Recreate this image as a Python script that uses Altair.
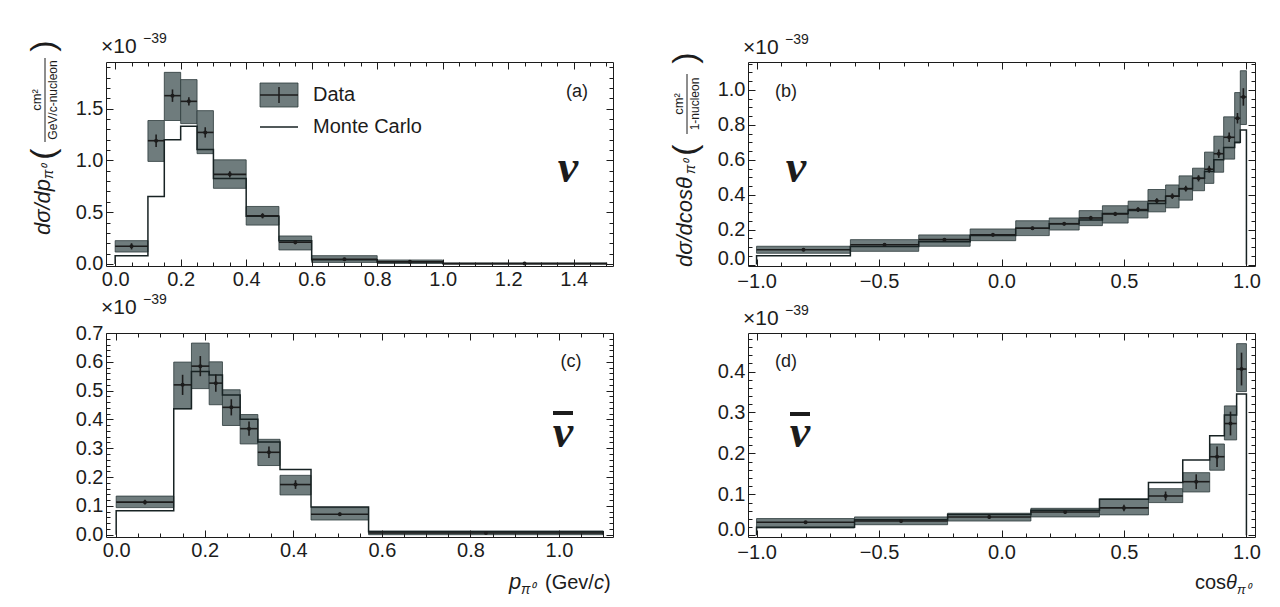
import altair as alt
import numpy as np
import pandas as pd

# ---------------- (a) neutrino, dsigma/dp ----------------
a_edges = [0.0, 0.1, 0.15, 0.2, 0.25, 0.3, 0.4, 0.5, 0.6, 0.8, 1.0, 1.5]
a_data = [0.17, 1.19, 1.625, 1.57, 1.27, 0.865, 0.465, 0.21, 0.045, 0.02, 0.003]
a_syslo = [0.115, 0.99, 1.385, 1.355, 1.065, 0.73, 0.375, 0.135, 0.015, 0.005, 0.0]
a_syshi = [0.225, 1.385, 1.85, 1.78, 1.48, 1.005, 0.555, 0.27, 0.08, 0.038, 0.007]
a_stat = [0.03, 0.06, 0.06, 0.04, 0.05, 0.03, 0.025, 0.02, 0.01, 0.005, 0.002]
a_mc = [0.08, 0.65, 1.2, 1.33, 1.105, 0.825, 0.46, 0.225, 0.04, 0.02, 0.004]
a_xmajor = [0.0, 0.2, 0.4, 0.6, 0.8, 1.0, 1.2, 1.4]
a_ymajor = [0.0, 0.5, 1.0, 1.5]

# ---------------- (b) neutrino, dsigma/dcos ----------------
b_edges = [-1.0, -0.617, -0.338, -0.128, 0.058, 0.195, 0.317, 0.412, 0.517, 0.598,
           0.67, 0.725, 0.78, 0.829, 0.867, 0.907, 0.952, 0.975, 1.0]
b_data = [0.085, 0.114, 0.143, 0.171, 0.208, 0.234, 0.267, 0.29, 0.315, 0.365,
          0.392, 0.435, 0.494, 0.546, 0.635, 0.729, 0.838, 0.96]
b_syslo = [0.065, 0.076, 0.105, 0.137, 0.166, 0.198, 0.223, 0.238, 0.267, 0.302,
           0.325, 0.369, 0.423, 0.465, 0.529, 0.604, 0.696, 0.802]
b_syshi = [0.105, 0.143, 0.17, 0.204, 0.251, 0.267, 0.309, 0.337, 0.363, 0.43,
           0.456, 0.508, 0.552, 0.644, 0.735, 0.846, 0.985, 1.11]
b_stat = [0.008, 0.008, 0.008, 0.01, 0.01, 0.01, 0.012, 0.012, 0.014, 0.015,
          0.016, 0.017, 0.018, 0.02, 0.024, 0.027, 0.03, 0.05]
b_mc = [0.05, 0.103, 0.131, 0.166, 0.208, 0.234, 0.255, 0.293, 0.31, 0.35,
        0.392, 0.435, 0.494, 0.533, 0.6, 0.67, 0.7, 0.77]
b_xmajor = [-1.0, -0.5, 0.0, 0.5, 1.0]
b_ymajor = [0.0, 0.2, 0.4, 0.6, 0.8, 1.0]

# ---------------- (c) antineutrino, dsigma/dp ----------------
c_edges = [0.0, 0.13, 0.17, 0.21, 0.24, 0.28, 0.32, 0.37, 0.44, 0.57, 1.1]
c_data = [0.113, 0.52, 0.585, 0.526, 0.442, 0.368, 0.286, 0.174, 0.071, 0.006]
c_syslo = [0.094, 0.437, 0.507, 0.451, 0.379, 0.315, 0.24, 0.138, 0.051, 0.0]
c_syshi = [0.134, 0.599, 0.665, 0.6, 0.503, 0.417, 0.331, 0.206, 0.094, 0.013]
c_stat = [0.008, 0.035, 0.035, 0.03, 0.028, 0.025, 0.02, 0.015, 0.006, 0.002]
c_mc = [0.083, 0.437, 0.566, 0.554, 0.485, 0.401, 0.322, 0.226, 0.096, 0.01]
c_xmajor = [0.0, 0.2, 0.4, 0.6, 0.8, 1.0]
c_ymajor = [0.0, 0.1, 0.2, 0.3, 0.4, 0.5, 0.6, 0.7]

# ---------------- (d) antineutrino, dsigma/dcos ----------------
d_edges = [-1.0, -0.6, -0.22, 0.12, 0.4, 0.6, 0.74, 0.85, 0.91, 0.96, 1.0]
d_data = [0.032, 0.035, 0.045, 0.057, 0.067, 0.096, 0.131, 0.192, 0.273, 0.406]
d_syslo = [0.018, 0.026, 0.035, 0.045, 0.05, 0.08, 0.106, 0.159, 0.233, 0.351]
d_syshi = [0.041, 0.045, 0.054, 0.066, 0.089, 0.114, 0.153, 0.223, 0.316, 0.468]
d_stat = [0.003, 0.004, 0.004, 0.005, 0.008, 0.011, 0.018, 0.025, 0.029, 0.04]
d_mc = [0.02, 0.038, 0.051, 0.061, 0.088, 0.129, 0.184, 0.243, 0.294, 0.345]
d_xmajor = [-1.0, -0.5, 0.0, 0.5, 1.0]
d_ymajor = [0.0, 0.1, 0.2, 0.3, 0.4]

W, H = 507, 204
FONT = "Liberation Sans"
SERIF = "Liberation Serif"
INK = "#1c1c1c"
BOX_FILL = "#6f7c7d"
BOX_STROKE = "#2c3a3b"
LINE = "#172223"


def ticks(lo, hi, step, major):
    vals = np.round(np.arange(lo, hi + step / 2, step), 3)
    return [float(v) for v in vals if not any(abs(v - m) < 1e-9 for m in major)]


def axis(orient, vals, size, labels, pad=3, raise_zero=False):
    kw = dict(orient=orient, values=vals, tickSize=size, offset=-size,
              domain=False, grid=False, labels=labels, title=None,
              tickColor=INK, tickWidth=1, labelFont=FONT, labelFontSize=20,
              labelColor=INK, labelPadding=pad, format=".1f",
              labelFlush=False, labelOverlap=False, zindex=1)
    if raise_zero:
        kw["labelBaseline"] = {"condition": {"test": "datum.value == 0", "value": "alphabetic"},
                               "value": "middle"}
    return alt.Axis(**kw)


class Panel:
    """Converts pixel offsets (relative to the plot area) into data units so every
    annotation layer is drawn through the panel's own shared scales."""

    def __init__(self, xdom, ydom, cos_axis=False):
        self.xdom, self.ydom = xdom, ydom
        self.cos_axis = cos_axis
        self.xs = alt.Scale(domain=xdom, nice=False, zero=False)
        self.ys = alt.Scale(domain=ydom, nice=False, zero=False)

    def px(self, x):
        return self.xdom[0] + x / W * (self.xdom[1] - self.xdom[0])

    def py(self, y):
        return self.ydom[1] - y / H * (self.ydom[1] - self.ydom[0])

    def X(self, f):
        return alt.X(f, scale=self.xs, axis=None)

    def Y(self, f):
        return alt.Y(f, scale=self.ys, axis=None)

    def txt(self, s, x, y, size, angle=0, italic=False, bold=False, font=FONT,
            align="center", baseline="middle"):
        kw = dict(fontSize=size, font=font, align=align, baseline=baseline, color=INK)
        if angle:
            kw["angle"] = angle
        if italic:
            kw["fontStyle"] = "italic"
        if bold:
            kw["fontWeight"] = "bold"
        df = pd.DataFrame({"t": [s], "x": [self.px(x)], "y": [self.py(y)]})
        return alt.Chart(df).mark_text(**kw).encode(
            x=self.X("x:Q"), y=self.Y("y:Q"), text="t:N")

    def seg(self, x1, x2, y1, y2, w=1.0, color=INK):
        df = pd.DataFrame({"x": [self.px(x1)], "x2": [self.px(x2)],
                           "y": [self.py(y1)], "y2": [self.py(y2)]})
        return alt.Chart(df).mark_rule(strokeWidth=w, color=color).encode(
            x=self.X("x:Q"), x2="x2:Q", y=self.Y("y:Q"), y2="y2:Q")

    def box(self, x1, x2, y1, y2):
        df = pd.DataFrame({"x": [self.px(x1)], "x2": [self.px(x2)],
                           "y": [self.py(y1)], "y2": [self.py(y2)]})
        return alt.Chart(df).mark_rect(fill=BOX_FILL, stroke=BOX_STROKE, strokeWidth=0.8).encode(
            x=self.X("x:Q"), x2="x2:Q", y=self.Y("y:Q"), y2="y2:Q")

    def exponent(self, y):
        return [self.txt("×10", -5, y, 21, align="left", baseline="alphabetic"),
                self.txt("−39", 37, y - 10, 14, align="left", baseline="alphabetic")]

    def chart(self, edges, data, lo, hi, stat, mc, xmaj, xmin, ymaj, ymin, extras):
        n = len(data)
        df = pd.DataFrame({
            "x0": edges[:-1], "x1": edges[1:],
            "xc": [(edges[i] + edges[i + 1]) / 2 for i in range(n)],
            "d": data, "lo": lo, "hi": hi,
            "s0": [data[i] - stat[i] for i in range(n)],
            "s1": [data[i] + stat[i] for i in range(n)],
        })
        base = alt.Chart(df)
        boxes = base.mark_rect(fill=BOX_FILL, stroke=BOX_STROKE, strokeWidth=0.8).encode(
            x=self.X("x0:Q"), x2="x1:Q", y=self.Y("lo:Q"), y2="hi:Q")
        sx, sy = [edges[0]], [0.0]
        for i, v in enumerate(mc):
            sx += [edges[i], edges[i + 1]]
            sy += [v, v]
        sx.append(edges[-1])
        sy.append(0.0)
        mdf = pd.DataFrame({"x": sx, "y": sy, "i": list(range(len(sx)))})
        mcl = alt.Chart(mdf).mark_line(color=LINE, strokeWidth=1.5).encode(
            x=self.X("x:Q"), y=self.Y("y:Q"), order="i:Q")
        hbar = base.mark_rule(color=INK, strokeWidth=1.6).encode(
            x=self.X("x0:Q"), x2="x1:Q", y=self.Y("d:Q"))
        vbar = base.mark_rule(color=INK, strokeWidth=1.6).encode(
            x=self.X("xc:Q"), y=self.Y("s0:Q"), y2="s1:Q")
        pts = base.mark_circle(color=INK, size=16, opacity=1).encode(
            x=self.X("xc:Q"), y=self.Y("d:Q"))
        xpad = 5 if self.cos_axis else 3
        axl = []
        for orient, vals, size, lab in [("bottom", xmaj, 7, True), ("bottom", xmin, 4, False),
                                        ("top", xmaj, 7, False), ("top", xmin, 4, False)]:
            axl.append(base.mark_point(opacity=0).encode(
                x=alt.X("xc:Q", scale=self.xs, axis=axis(orient, vals, size, lab, pad=xpad)),
                y=self.Y("d:Q")))
        for orient, vals, size, lab in [("left", ymaj, 7, True), ("left", ymin, 4, False),
                                        ("right", ymaj, 7, False), ("right", ymin, 4, False)]:
            axl.append(base.mark_point(opacity=0).encode(
                x=self.X("xc:Q"),
                y=alt.Y("d:Q", scale=self.ys,
                        axis=axis(orient, vals, size, lab,
                                  raise_zero=(self.cos_axis and lab)))))
        return alt.layer(boxes, mcl, hbar, vbar, pts, *axl, *extras).properties(
            width=W, height=H).resolve_axis(x="independent", y="independent")


# ---- (a)
A = Panel([-0.028, 1.52], [-0.02, 1.95])
a_extra = A.exponent(-9) + [
    A.txt("(a)", 471, 30, 18),
    A.txt("ν", 462, 106, 46, italic=True, bold=True, font=SERIF),
    A.box(154, 192, 21, 45),
    A.seg(154, 192, 33, 33, 1.5), A.seg(173, 173, 25, 41, 1.5),
    A.txt("Data", 207, 33, 20, align="left"),
    A.seg(154, 192, 65, 65, 1.4, LINE),
    A.txt("Monte Carlo", 207, 65, 20, align="left"),
    A.txt("dσ/dp", -63, 173, 22, angle=270, italic=True, align="left"),
    A.txt("π⁰", -57, 117, 14, angle=270, italic=True, align="left"),
    A.txt("(", -62, 92, 34, angle=270),
    A.txt("cm²", -69, 38, 13, angle=270),
    A.seg(-61, -61, 80, -4, 1.0),
    A.txt("GeV/c-nucleon", -53, 38, 12, angle=270),
    A.txt(")", -62, -16, 34, angle=270),
]
pa = A.chart(a_edges, a_data, a_syslo, a_syshi, a_stat, a_mc,
             a_xmajor, ticks(0.0, 1.5, 0.05, a_xmajor), a_ymajor, ticks(0.0, 1.9, 0.1, a_ymajor),
             a_extra)

# ---- (b)
B = Panel([-1.035, 1.035], [-0.008, 1.16], cos_axis=True)
b_extra = B.exponent(-8) + [
    B.txt("(b)", 38, 30, 18),
    B.txt("ν", 48, 106, 46, italic=True, bold=True, font=SERIF),
    B.txt("dσ/dcosθ", -63, 205, 22, angle=270, italic=True, align="left"),
    B.txt("π⁰", -57, 112, 14, angle=270, italic=True, align="left"),
    B.txt("(", -62, 88, 34, angle=270),
    B.txt("cm²", -69, 42, 13, angle=270),
    B.seg(-61, -61, 72, 12, 1.0),
    B.txt("1-nucleon", -53, 42, 12, angle=270),
    B.txt(")", -62, -4, 34, angle=270),
]
pb = B.chart(b_edges, b_data, b_syslo, b_syshi, b_stat, b_mc,
             b_xmajor, ticks(-1.0, 1.0, 0.1, b_xmajor), b_ymajor, ticks(0.0, 1.15, 0.05, b_ymajor),
             b_extra)

# ---- (c)
C = Panel([-0.023, 1.122], [-0.008, 0.70])
c_extra = C.exponent(-19) + [
    C.txt("(c)", 465, 29, 18),
    C.txt("ν", 457, 100, 46, italic=True, bold=True, font=SERIF),
    C.seg(447, 467, 80, 80, 4),
    C.txt("p", 403, 256, 22, italic=True, align="left", baseline="alphabetic"),
    C.txt("π⁰", 415, 261, 14, italic=True, align="left", baseline="alphabetic"),
    C.txt("(Gev/", 439, 256, 20, align="left", baseline="alphabetic"),
    C.txt("c", 488, 256, 20, italic=True, align="left", baseline="alphabetic"),
    C.txt(")", 498, 256, 20, align="left", baseline="alphabetic"),
]
pc = C.chart(c_edges, c_data, c_syslo, c_syshi, c_stat, c_mc,
             c_xmajor, ticks(0.0, 1.1, 0.05, c_xmajor), c_ymajor, ticks(0.0, 0.7, 0.02, c_ymajor),
             c_extra)

# ---- (d)
D = Panel([-1.035, 1.035], [-0.004, 0.494], cos_axis=True)
d_extra = D.exponent(-8) + [
    D.txt("(d)", 38, 29, 18),
    D.txt("ν", 52, 100, 46, italic=True, bold=True, font=SERIF),
    D.seg(42, 62, 81, 81, 4),
    D.txt("cos", 447, 256, 20, align="left", baseline="alphabetic"),
    D.txt("θ", 478, 256, 20, italic=True, align="left", baseline="alphabetic"),
    D.txt("π⁰", 489, 261, 13, italic=True, align="left", baseline="alphabetic"),
]
pd_ = D.chart(d_edges, d_data, d_syslo, d_syshi, d_stat, d_mc,
              d_xmajor, ticks(-1.0, 1.0, 0.1, d_xmajor), d_ymajor, ticks(0.0, 0.48, 0.02, d_ymajor),
              d_extra)

chart = alt.concat(pa, pb, pc, pd_, columns=2, spacing={"row": 67, "column": 135},
                   bounds="flush").properties(
    padding={"left": 18, "top": 23, "right": 0, "bottom": 0},
    background="white",
).configure_view(stroke=INK, strokeWidth=1)

chart.save("out.html", embed_options={"renderer": "svg", "actions": False})
